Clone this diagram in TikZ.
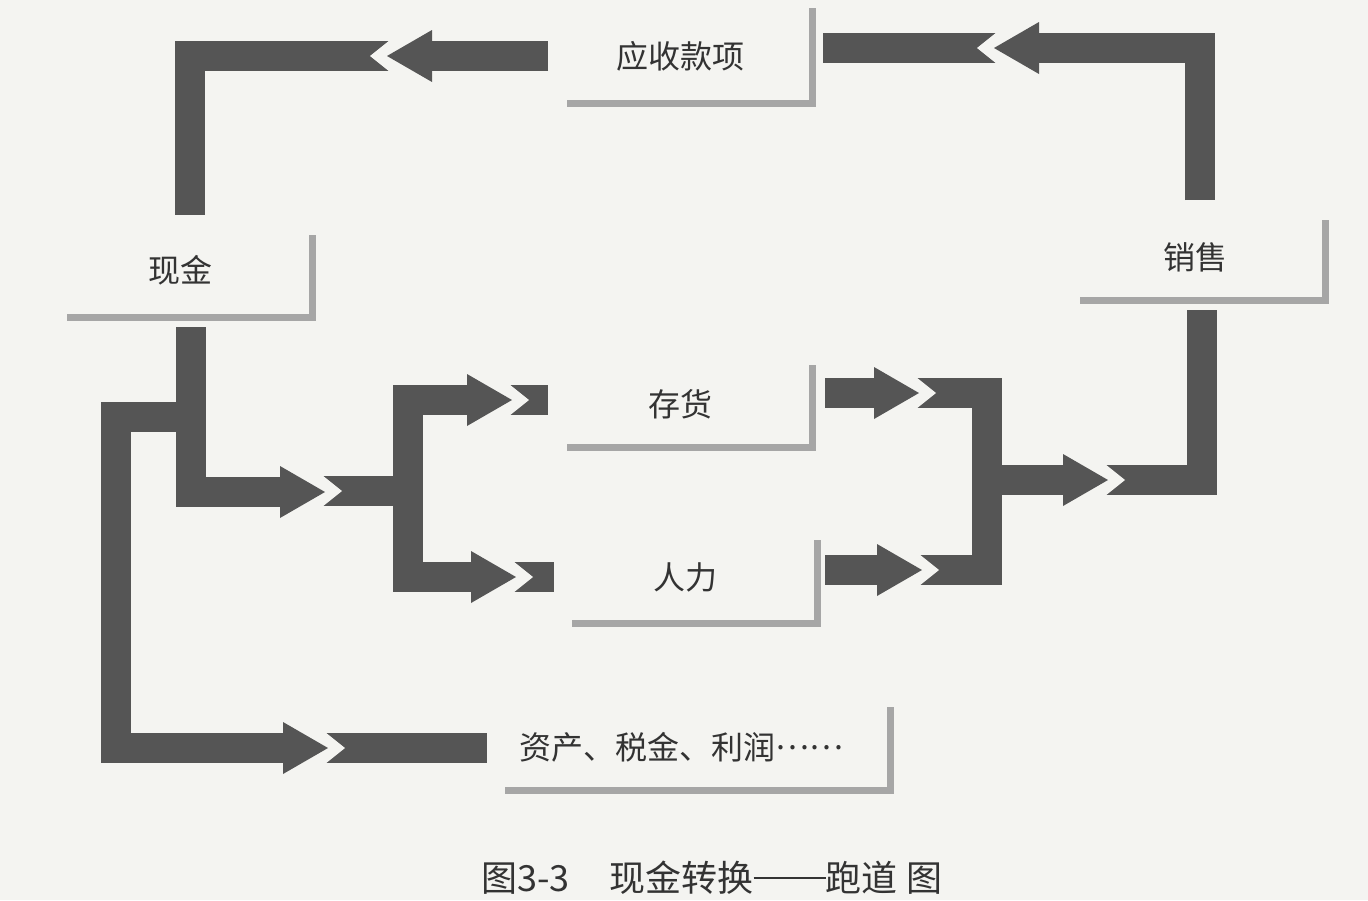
\documentclass[tikz,border=0pt]{standalone}
\usepackage{fontspec}
\newfontfamily\cjkf{Noto Sans CJK SC}
\definecolor{bg}{HTML}{F4F4F1}
\definecolor{barc}{HTML}{555555}
\definecolor{brk}{HTML}{A6A6A6}
\definecolor{txt}{HTML}{333333}
\newcommand\hdR[2]{\fill[barc] (#1,#2) -- ++(-45,-26) -- ++(0,52) -- cycle;}
\newcommand\hdL[2]{\fill[barc] (#1,#2) -- ++(45,-26) -- ++(0,52) -- cycle;}
\newcommand\ntR[2]{\fill[bg] (#1-3,#2-16) -- (#1+17,#2) -- (#1-3,#2+16) -- cycle;}
\newcommand\ntL[2]{\fill[bg] (#1+3,#2-16) -- (#1-17,#2) -- (#1+3,#2+16) -- cycle;}
\tikzset{
  trk/.style={draw=barc, line width=30pt, line join=miter, line cap=butt},
  brkline/.style={draw=brk, line width=7pt, line join=miter, line cap=butt},
  lbl/.style={text=txt, inner sep=0pt, font=\cjkf\fontsize{32}{38}\selectfont},
  captxt/.style={text=txt, inner sep=0pt, font=\cjkf\fontsize{36}{42}\selectfont}
}
\begin{document}
\begin{tikzpicture}[x=1pt,y=-1pt]
\useasboundingbox (0,0) rectangle (1368,900);
\fill[bg] (0,0) rectangle (1368,900);

% bracket lines
\draw[brkline] (567,103) -- (812,103) -- (812,8);
\draw[brkline] (1080,300) -- (1325,300) -- (1325,220);
\draw[brkline] (67,317) -- (312,317) -- (312,235);
\draw[brkline] (567,447) -- (812,447) -- (812,365);
\draw[brkline] (572,623) -- (817,623) -- (817,540);
\draw[brkline] (505,790) -- (890,790) -- (890,707);

% top right
\draw[trk] (1200,200) -- (1200,48) -- (1034,48);
\draw[trk] (996,48) -- (823,48);
% top left
\draw[trk] (548,56) -- (427,56);
\draw[trk] (389,56) -- (190,56) -- (190,215);
% below cash
\draw[trk] (191,327) -- (191,492) -- (285,492);
\draw[trk] (191,417) -- (116,417) -- (116,748) -- (288,748);
\draw[trk] (326,748) -- (487,748);
% middle split
\draw[trk] (323,491) -- (408,491);
\draw[trk] (472,400) -- (408,400) -- (408,577) -- (476,577);
\draw[trk] (510,400) -- (548,400);
\draw[trk] (514,577) -- (554,577);
% right merge
\draw[trk] (825,393) -- (879,393);
\draw[trk] (825,570) -- (882,570);
\draw[trk] (917,393) -- (987,393) -- (987,570) -- (920,570);
\draw[trk] (987,480) -- (1068,480);
\draw[trk] (1106,480) -- (1202,480) -- (1202,310);

% notches
\ntL{994}{48}
\ntL{387}{56}
\ntR{328}{748}
\ntR{325}{491}
\ntR{512}{400}
\ntR{516}{577}
\ntR{919}{393}
\ntR{922}{570}
\ntR{1108}{480}

% heads
\hdL{994}{48}
\hdL{387}{56}
\hdR{325}{492}
\hdR{328}{748}
\hdR{512}{400}
\hdR{516}{577}
\hdR{919}{393}
\hdR{922}{570}
\hdR{1108}{480}

% labels
\node[lbl] (ar) at (680,56) {应收款项};
\node[lbl] (sales) at (1195,257) {销售};
\node[lbl] (cash) at (180,270) {现金};
\node[lbl] (inv) at (680,404) {存货};
\node[lbl] (labor) at (685,577) {人力};
\node[lbl, anchor=west] (assets) at (519,747) {资产、税金、利润\raisebox{0.3em}{……}};
\node[captxt] (cap) at (712,878) {图3-3\hspace{1.1em}现金转换\raisebox{0.36em}{\rule{2em}{0.05em}}跑道\hspace{0.25em}图};
\end{tikzpicture}
\end{document}
